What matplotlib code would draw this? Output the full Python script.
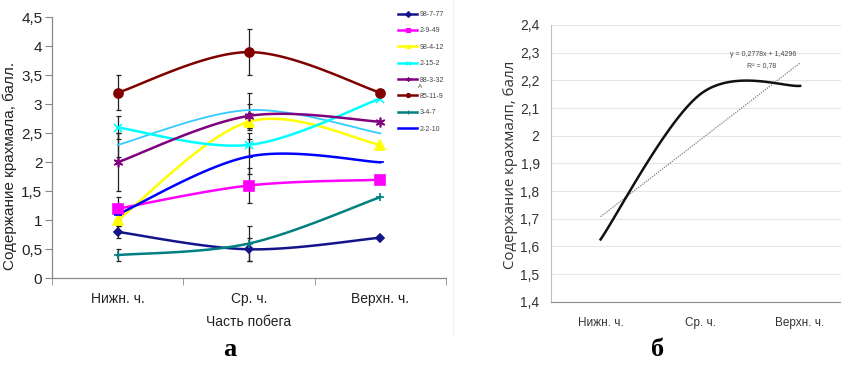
import numpy as np
import matplotlib
matplotlib.use("Agg")
import matplotlib.pyplot as plt
from matplotlib.lines import Line2D

# ---------------- data ----------------
categories = ["Нижн. ч.", "Ср. ч.", "Верхн. ч."]

series_names = ["98-7-77", "2-9-49", "98-4-12", "2-15-2", "88-3-32", "85-11-9", "3-4-7", "2-2-10"]
v_98_7_77 = [0.8, 0.5, 0.7]
v_2_9_49 = [1.2, 1.6, 1.7]
v_98_4_12 = [1.0, 2.7, 2.3]
v_2_15_2 = [2.6, 2.3, 3.1]
v_88_3_32 = [2.0, 2.8, 2.7]
v_85_11_9 = [3.2, 3.9, 3.2]
v_3_4_7 = [0.4, 0.6, 1.4]
v_2_2_10 = [1.1, 2.1, 2.0]
v_unlabeled = [2.3, 2.9, 2.5]

err_98_7_77 = [0.1, 0.2, 0.0]
err_2_9_49 = [0.2, 0.3, 0.0]
err_98_4_12 = [0.1, 0.15, 0.0]
err_2_15_2 = [0.2, 0.2, 0.0]
err_88_3_32 = [0.5, 0.2, 0.0]
err_85_11_9 = [0.3, 0.4, 0.0]
err_3_4_7 = [0.1, 0.3, 0.0]
err_2_2_10 = [0.1, 0.3, 0.0]
err_unlabeled = [0.2, 0.3, 0.0]

left_yticks = [0, 0.5, 1, 1.5, 2, 2.5, 3, 3.5, 4, 4.5]
left_yticklabels = ["0", "0,5", "1", "1,5", "2", "2,5", "3", "3,5", "4", "4,5"]

right_values = [1.625, 2.15, 2.18]
trend_slope = 0.2778
trend_intercept = 1.4296
trend_r2 = "0,78"
right_yticks = [1.4, 1.5, 1.6, 1.7, 1.8, 1.9, 2.0, 2.1, 2.2, 2.3, 2.4]
right_yticklabels = ["1,4", "1,5", "1,6", "1,7", "1,8", "1,9", "2", "2,1", "2,2", "2,3", "2,4"]


def smooth(xs, ys, n=60):
    """Excel-like smoothed line (Catmull-Rom as cubic Bezier)."""
    p = np.column_stack([xs, ys]).astype(float)
    m = len(p)
    out = [p[0]]
    for i in range(m - 1):
        p0 = p[i - 1] if i > 0 else p[i]
        p1 = p[i]
        p2 = p[i + 1]
        p3 = p[i + 2] if i + 2 < m else p[i + 1]
        c1 = p1 + (p2 - p0) / 6.0
        c2 = p2 - (p3 - p1) / 6.0
        t = np.linspace(0, 1, n)[1:, None]
        b = ((1 - t) ** 3) * p1 + 3 * ((1 - t) ** 2) * t * c1 + 3 * (1 - t) * t ** 2 * c2 + t ** 3 * p2
        out.extend(b)
    out = np.array(out)
    return out[:, 0], out[:, 1]


W, H = 841, 366
fig = plt.figure(figsize=(W / 100, H / 100), dpi=100)
fig.patch.set_facecolor("white")

sans = ["Liberation Sans", "DejaVu Sans"]
narrow = ["Liberation Sans Narrow", "Liberation Sans", "DejaVu Sans"]
serif = ["Liberation Serif", "DejaVu Serif"]

# ---------------- left chart ----------------
axL = fig.add_axes([52 / W, 1 - 278.3 / H, 394 / W, 261 / H])
x = np.arange(len(categories))

specs = [
    (series_names[0], v_98_7_77, err_98_7_77, "#14148a", "D", 4.5, 1.8),
    (series_names[1], v_2_9_49, err_2_9_49, "#ff00ff", "s", 6.5, 1.8),
    (series_names[2], v_98_4_12, err_98_4_12, "#ffff00", "^", 7, 1.8),
    (series_names[3], v_2_15_2, err_2_15_2, "#00ffff", "x", 6, 1.8),
    (series_names[4], v_88_3_32, err_88_3_32, "#800080", (6, 2, 0), 7, 1.8),
    (series_names[5], v_85_11_9, err_85_11_9, "#800000", "o", 6.5, 1.8),
    (series_names[6], v_3_4_7, err_3_4_7, "#008080", "+", 6, 1.8),
    (series_names[7], v_2_2_10, err_2_2_10, "#0000ff", "_", 6, 1.8),
]

# unlabeled light-blue series
xs, ys = smooth(x, v_unlabeled)
axL.plot(xs, ys, color="#33ccff", lw=1.3, zorder=3)
axL.errorbar(x[:2], v_unlabeled[:2], yerr=err_unlabeled[:2], fmt="none",
             ecolor="#222222", elinewidth=0.9, capsize=1.8, capthick=0.9, zorder=2)

handles = []
for name, vals, errs, col, mk, ms, lw in specs:
    axL.errorbar(x[:2], vals[:2], yerr=errs[:2], fmt="none",
                 ecolor="#222222", elinewidth=0.9, capsize=1.8, capthick=0.9, zorder=2)
    xs, ys = smooth(x, vals)
    axL.plot(xs, ys, color=col, lw=lw, zorder=4)
    axL.plot(x, vals, linestyle="none", marker=mk, ms=ms, color=col,
             markeredgecolor=col, mew=1.2, zorder=5)
    handles.append(Line2D([0], [0], color=col, lw=1.8, marker=mk, ms=3,
                          markeredgecolor=col, mew=0.8, label=name))

axL.set_xlim(-0.5, 2.5)
axL.set_ylim(0, 4.5)
axL.set_yticks(left_yticks)
axL.set_yticklabels(left_yticklabels, fontsize=11, family=sans, color="#222222")
axL.set_xticks(x)
axL.set_xticklabels(categories, fontsize=10, family=sans, color="#222222")
axL.set_xticks([-0.5, 0.5, 1.5, 2.5], minor=True)
axL.tick_params(axis="x", which="major", length=0, pad=10)
axL.tick_params(axis="x", which="minor", length=5, color="#888888", direction="out")
axL.tick_params(axis="y", length=5, color="#888888", direction="out", pad=2)
for s in ["top", "right"]:
    axL.spines[s].set_visible(False)
for s in ["left", "bottom"]:
    axL.spines[s].set_color("#888888")
    axL.spines[s].set_linewidth(0.9)
axL.set_xlabel("Часть побега", fontsize=10, family=sans, color="#222222", labelpad=6)
axL.set_ylabel("Содержание крахмала, балл.", fontsize=11, family=sans, color="#222222", labelpad=3)
axL.yaxis.set_label_coords(-0.09, 0.43)

leg = axL.legend(handles=handles, loc="upper left", bbox_to_anchor=(398 / W, 1 - 11 / H),
                 bbox_transform=fig.transFigure, frameon=False,
                 prop={"family": sans, "size": 5}, handlelength=2.8, handletextpad=0.3,
                 labelspacing=1.35, borderpad=0, borderaxespad=0)
for t in leg.get_texts():
    t.set_color("#444444")
fig.text(418 / W, 1 - 87 / H, "A", fontsize=4.5, family=sans, color="#444444", ha="left", va="center")

fig.text(230 / W, 1 - 350 / H, "а", fontsize=19, family=serif, weight="bold", ha="center", va="center")

# faint separator
fig.add_artist(Line2D([453 / W, 453 / W], [1 - 335 / H, 1.0], transform=fig.transFigure,
                      color="#f0f0f0", lw=0.8))

# ---------------- right chart ----------------
axR = fig.add_axes([550.7 / W, 1 - 301.7 / H, 299.3 / W, 276.7 / H])
axR.set_xlim(-0.5, 2.5)
axR.set_ylim(1.4, 2.4)
axR.set_yticks(right_yticks)
axR.set_yticklabels(right_yticklabels, fontsize=10, family=narrow, color="#333333")
axR.set_xticks(x)
axR.set_xticklabels(categories, fontsize=8.5, family=narrow, color="#333333")
axR.tick_params(axis="both", length=0)
axR.tick_params(axis="x", pad=11)
axR.tick_params(axis="y", pad=8)
axR.grid(axis="y", color="#e6e6e6", lw=0.8)
axR.set_axisbelow(True)
for s in ["top", "right"]:
    axR.spines[s].set_visible(False)
axR.spines["left"].set_color("#bfbfbf")
axR.spines["bottom"].set_color("#8c8c8c")
axR.spines["left"].set_linewidth(0.8)
axR.spines["bottom"].set_linewidth(0.8)

xs, ys = smooth(x, right_values)
axR.plot(xs, ys, color="#111111", lw=1.8, zorder=4)
tx = np.array([x[0], x[-1]], dtype=float)
ty = trend_intercept + trend_slope * (tx + 1)
axR.plot(tx, ty, color="#7f7f7f", lw=0.9, linestyle=(0, (1, 1)), zorder=3)

axR.text(763 / W, 1 - 55 / H, "y = 0,2778x + 1,4296", transform=fig.transFigure,
         fontsize=5, family=narrow, color="#444444", ha="center", va="center")
axR.text(762 / W, 1 - 66 / H, "R² = " + trend_r2, transform=fig.transFigure,
         fontsize=5, family=narrow, color="#444444", ha="center", va="center")
axR.set_ylabel("Содержание крахмалп, балл", fontsize=10.8, family=["Open Sans", "DejaVu Sans"],
               color="#333333")
axR.yaxis.set_label_coords((518 - 550.7) / 299.3, (366 - 165 - 64.3) / 276.7)

fig.text(658 / W, 1 - 350 / H, "б", fontsize=19, family=serif, weight="bold", ha="center", va="center")

fig.savefig("out.png", dpi=100, facecolor="white")
